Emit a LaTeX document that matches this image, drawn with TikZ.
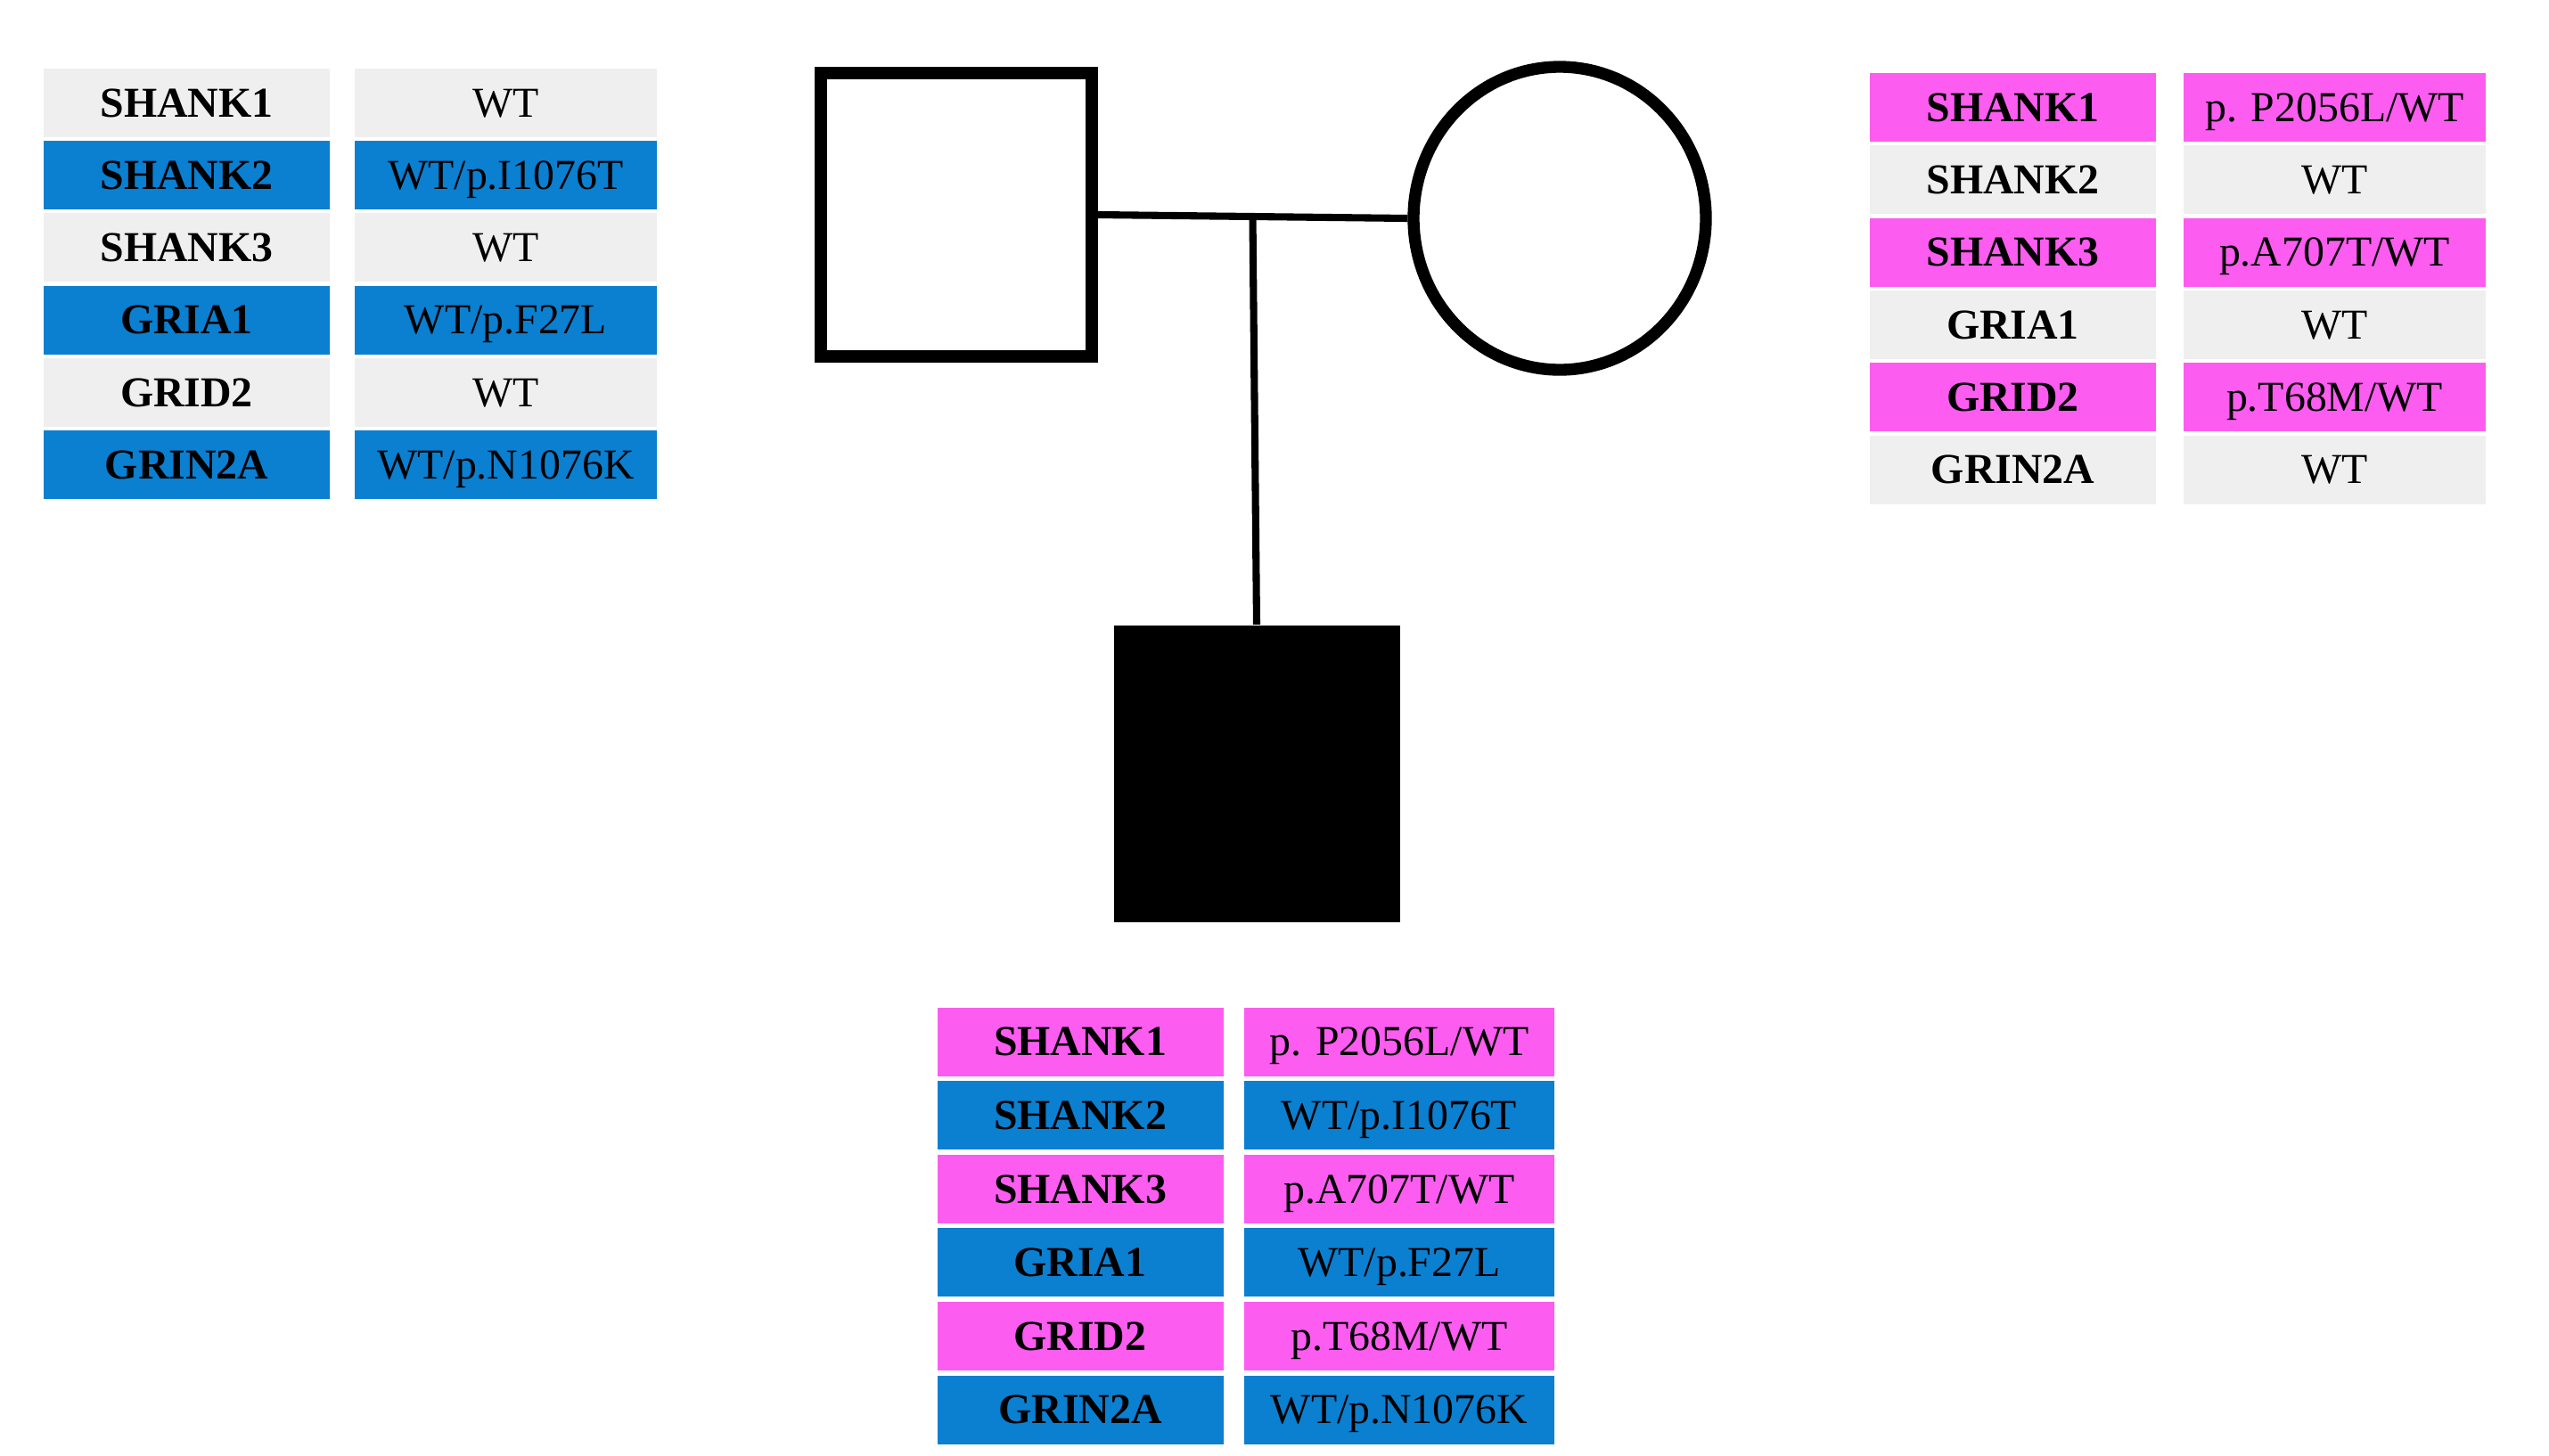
\documentclass[tikz,border=0pt]{standalone}
\usepackage{fontspec}
\setmainfont{Liberation Serif}
\usetikzlibrary{shapes.geometric,calc}

\definecolor{wtgrey}{HTML}{EFEFEF}
\definecolor{patblue}{HTML}{0B7FD0}
\definecolor{matpink}{HTML}{FC5CF0}

\tikzset{
  cell/.style={minimum height=0.77cm, inner sep=0pt, text height=9pt, text depth=0pt,
    font=\fontsize{13.6}{16}\selectfont},
  genecell/.style={cell, minimum width=3.21cm, font=\fontsize{13.6}{16}\selectfont\bfseries},
  varcell/.style={cell, minimum width=3.39cm},
  pedline/.style={line width=2.3pt},
  pedsymbol/.style={draw, line width=3.8pt, inner sep=0pt},
}

\begin{document}
\begin{tikzpicture}
\useasboundingbox (0,-16.33) rectangle (28.6,0);

% pedigree
\node[pedsymbol, minimum width=3.04cm, minimum height=3.18cm] (father) at (10.73,-2.41) {};
\node[pedsymbol, ellipse, minimum width=3.28cm, minimum height=3.40cm] (mother) at (17.50,-2.45) {};
\node[fill=black, inner sep=0pt, minimum width=3.21cm, minimum height=3.33cm] (child) at (14.10,-8.68) {};
\coordinate (mating) at ($(father.east)!0.5!(mother.west)$);
\draw[pedline] (father.east) -- (mother.west);
\draw[pedline] (mating) -- (child.north);

% father
\foreach \i/\gene/\vnt/\col in {1/SHANK1/WT/wtgrey, 2/SHANK2/{WT/p.I1076T}/patblue,
    3/SHANK3/WT/wtgrey, 4/GRIA1/{WT/p.F27L}/patblue, 5/GRID2/WT/wtgrey,
    6/GRIN2A/{WT/p.N1076K}/patblue}
{
  \node[genecell, fill=\col] (fg\i) at (2.095, {-1.155-0.812*(\i-1)}) {\gene};
  \node[varcell, fill=\col] (fv\i) at (5.675, {-1.155-0.812*(\i-1)}) {\vnt};
}

% mother
\foreach \i/\gene/\vnt/\col in {1/SHANK1/{p. P2056L/WT}/matpink, 2/SHANK2/WT/wtgrey,
    3/SHANK3/{p.A707T/WT}/matpink, 4/GRIA1/WT/wtgrey, 5/GRID2/{p.T68M/WT}/matpink,
    6/GRIN2A/WT/wtgrey}
{
  \node[genecell, fill=\col] (mg\i) at (22.585, {-1.205-0.813*(\i-1)}) {\gene};
  \node[varcell, fill=\col] (mv\i) at (26.195, {-1.205-0.813*(\i-1)}) {\vnt};
}

% proband
\foreach \i/\gene/\vnt/\col in {1/SHANK1/{p. P2056L/WT}/matpink, 2/SHANK2/{WT/p.I1076T}/patblue,
    3/SHANK3/{p.A707T/WT}/matpink, 4/GRIA1/{WT/p.F27L}/patblue, 5/GRID2/{p.T68M/WT}/matpink,
    6/GRIN2A/{WT/p.N1076K}/patblue}
{
  \node[genecell, fill=\col] (cg\i) at (12.12, {-11.69-0.826*(\i-1)}) {\gene};
  \node[varcell, fill=\col, minimum width=3.48cm] (cv\i) at (15.70, {-11.69-0.826*(\i-1)}) {\vnt};
}

\end{tikzpicture}
\end{document}
